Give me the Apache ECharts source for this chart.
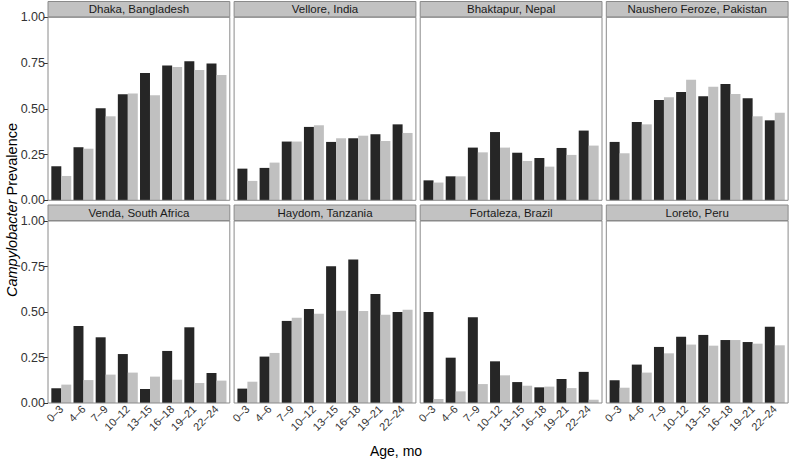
<!DOCTYPE html>
<html>
<head>
<meta charset="utf-8">
<script src="https://cdn.jsdelivr.net/npm/echarts@6/dist/echarts.min.js"></script>
<style>html,body{margin:0;padding:0;background:#fff}#c{width:790px;height:462px}</style>
</head>
<body>
<div id="c"></div>
<script>
const categories = ['0–3','4–6','7–9','10–12','13–15','16–18','19–21','22–24'];
const sites = ['Dhaka, Bangladesh','Vellore, India','Bhaktapur, Nepal','Naushero Feroze, Pakistan',
               'Venda, South Africa','Haydom, Tanzania','Fortaleza, Brazil','Loreto, Peru'];
const yTicks = [0, 0.25, 0.5, 0.75, 1];

const darkDhaka     = [0.186,0.290,0.503,0.579,0.696,0.736,0.760,0.747];
const lightDhaka    = [0.133,0.282,0.459,0.583,0.574,0.729,0.712,0.685];
const darkVellore   = [0.173,0.177,0.321,0.401,0.319,0.339,0.361,0.415];
const lightVellore  = [0.106,0.206,0.321,0.410,0.339,0.353,0.324,0.368];
const darkBhaktapur = [0.109,0.131,0.288,0.373,0.260,0.231,0.286,0.381];
const lightBhaktapur= [0.097,0.131,0.262,0.288,0.215,0.184,0.248,0.299];
const darkNaushero  = [0.319,0.428,0.548,0.592,0.568,0.636,0.557,0.437];
const lightNaushero = [0.257,0.415,0.563,0.659,0.621,0.581,0.459,0.479];
const darkVenda     = [0.081,0.423,0.361,0.269,0.077,0.286,0.416,0.165];
const lightVenda    = [0.101,0.126,0.156,0.167,0.145,0.128,0.110,0.123];
const darkHaydom    = [0.079,0.255,0.451,0.516,0.751,0.788,0.599,0.500];
const lightHaydom   = [0.117,0.275,0.469,0.491,0.507,0.505,0.485,0.513];
const darkFortaleza = [0.500,0.249,0.471,0.229,0.115,0.086,0.132,0.171];
const lightFortaleza= [0.022,0.064,0.104,0.152,0.095,0.090,0.082,0.018];
const darkLoreto    = [0.125,0.211,0.308,0.364,0.374,0.346,0.335,0.419];
const lightLoreto   = [0.084,0.167,0.273,0.321,0.315,0.346,0.326,0.317];

const darkSeries  = [darkDhaka,darkVellore,darkBhaktapur,darkNaushero,darkVenda,darkHaydom,darkFortaleza,darkLoreto];
const lightSeries = [lightDhaka,lightVellore,lightBhaktapur,lightNaushero,lightVenda,lightHaydom,lightFortaleza,lightLoreto];

// layout
const panelW = 181.8, gapX = 4.3, left0 = 48;
const rows = [{top:17.3, h:183, stripTop:1.5}, {top:221, h:182, stripTop:205}];
const unit = panelW / 8.2;
const FONT = '"Liberation Sans", Arial, Helvetica, sans-serif';

const grids = [], xAxes = [], yAxes = [], series = [], graphics = [];
for (let p = 0; p < 8; p++) {
  const r = Math.floor(p / 4), c = p % 4;
  const pl = left0 + c * (panelW + gapX);
  const row = rows[r];
  grids.push({left: pl + 0.1 * unit, top: row.top, width: 8 * unit, height: row.h, containLabel: false});
  xAxes.push({
    type: 'category', gridIndex: p, data: categories, boundaryGap: true,
    axisLine: {show: false}, axisTick: {show: false}, splitLine: {show: false},
    axisLabel: {show: r === 1, rotate: 45, fontSize: 11, color: '#333', margin: 4, fontFamily: FONT, interval: 0}
  });
  yAxes.push({
    type: 'value', gridIndex: p, min: 0, max: 1, interval: 0.25, offset: 0.1 * unit,
    axisLine: {show: false}, splitLine: {show: false},
    axisTick: {show: c === 0, length: 4, lineStyle: {color: '#333'}},
    axisLabel: {show: c === 0, fontSize: 12.5, color: '#333', margin: 3, fontFamily: FONT,
      formatter: v => yTicks.indexOf(v) >= 0 ? v.toFixed(2) : ''}
  });
  series.push({type: 'bar', xAxisIndex: p, yAxisIndex: p, data: darkSeries[p],
    itemStyle: {color: '#262626'}, barGap: '0%', barCategoryGap: '10%', silent: true});
  series.push({type: 'bar', xAxisIndex: p, yAxisIndex: p, data: lightSeries[p],
    itemStyle: {color: '#c0c0c0'}, barGap: '0%', barCategoryGap: '10%', silent: true});
  // panel border
  graphics.push({type: 'rect', shape: {x: pl, y: row.top, width: panelW, height: row.h},
    style: {fill: 'none', stroke: '#8a8a8a', lineWidth: 1}, z: 10});
  // strip
  graphics.push({type: 'rect', shape: {x: pl, y: row.stripTop, width: panelW, height: row.top - row.stripTop - 0.5},
    style: {fill: '#c2c2c2', stroke: '#8a8a8a', lineWidth: 1}, z: 10});
  graphics.push({type: 'text', x: pl + panelW / 2, y: (row.stripTop + row.top) / 2,
    style: {text: sites[p], fill: '#1a1a1a', font: '11.5px ' + FONT, textAlign: 'center', textVerticalAlign: 'middle'}, z: 11});
}
graphics.push({type: 'text', x: 396, y: 451,
  style: {text: 'Age, mo', fill: '#000', font: '14px ' + FONT, textAlign: 'center', textVerticalAlign: 'middle'}});
graphics.push({type: 'text', x: 12, y: 210, rotation: Math.PI / 2,
  style: {text: '{i|Campylobacter} Prevalence', fill: '#000', font: '14.5px ' + FONT,
    textAlign: 'center', textVerticalAlign: 'middle',
    rich: {i: {fontStyle: 'italic', fontSize: 14.5, fontFamily: FONT, fill: '#000'}}}});

const chart = echarts.init(document.getElementById('c'), null, {renderer: 'svg'});
chart.setOption({
  animation: false,
  backgroundColor: '#fff',
  grid: grids, xAxis: xAxes, yAxis: yAxes, series: series,
  graphic: graphics
});
</script>
</body>
</html>
